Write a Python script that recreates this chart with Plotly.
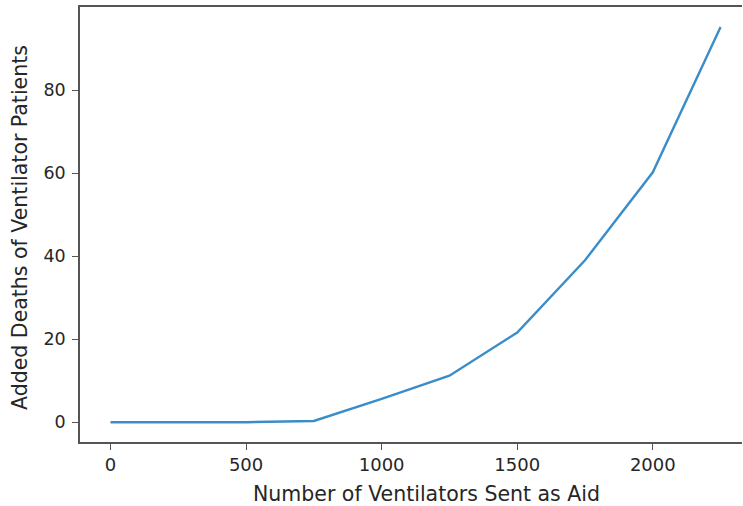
import plotly.graph_objects as go

ventilators = [0, 250, 500, 750, 1000, 1250, 1500, 1750, 2000, 2250]
added_deaths = [0.0, 0.0, 0.0, 0.3, 5.6, 11.2, 21.6, 39.0, 60.2, 95.2]

x_ticks = [0, 500, 1000, 1500, 2000]
y_ticks = [0, 20, 40, 60, 80]

x_title = "Number of Ventilators Sent as Aid"
y_title = "Added Deaths of Ventilator Patients"

FONT = "DejaVu Sans"
AXIS_COLOR = "#555555"
TEXT_COLOR = "#262626"

fig = go.Figure()
fig.add_trace(go.Scatter(
    x=ventilators, y=added_deaths, mode="lines",
    line=dict(color="#3a8dc8", width=2.4),
    showlegend=False,
))

fig.update_layout(
    width=743, height=506,
    margin=dict(l=80, r=1, t=7, b=64),
    paper_bgcolor="white", plot_bgcolor="white",
    font=dict(family=FONT, size=18, color=TEXT_COLOR),
    xaxis=dict(
        range=[-112.5, 2329], tickvals=x_ticks,
        showgrid=False, zeroline=False,
        showline=True, linecolor=AXIS_COLOR, linewidth=1.6, mirror=True,
        ticks="outside", ticklen=6, tickwidth=1.3, tickcolor=AXIS_COLOR,
        tickfont=dict(size=18, color=TEXT_COLOR),
    ),
    yaxis=dict(
        range=[-4.77, 100.0], tickvals=y_ticks,
        showgrid=False, zeroline=False,
        showline=True, linecolor=AXIS_COLOR, linewidth=1.6,
        ticks="outside", ticklen=6, tickwidth=1.3, tickcolor=AXIS_COLOR,
        tickfont=dict(size=17.5, color=TEXT_COLOR),
        ticklabelstandoff=3,
    ),
    annotations=[
        dict(text=x_title, xref="paper", yref="paper", x=0.524, y=0,
             xanchor="center", yanchor="middle", yshift=-52, showarrow=False,
             font=dict(family=FONT, size=20.5, color=TEXT_COLOR)),
        dict(text=y_title, xref="paper", yref="paper", x=0, y=0.492,
             xanchor="center", yanchor="middle", xshift=-60, textangle=-90,
             showarrow=False,
             font=dict(family=FONT, size=20.5, color=TEXT_COLOR)),
    ],
)

fig.write_html("out.html")
